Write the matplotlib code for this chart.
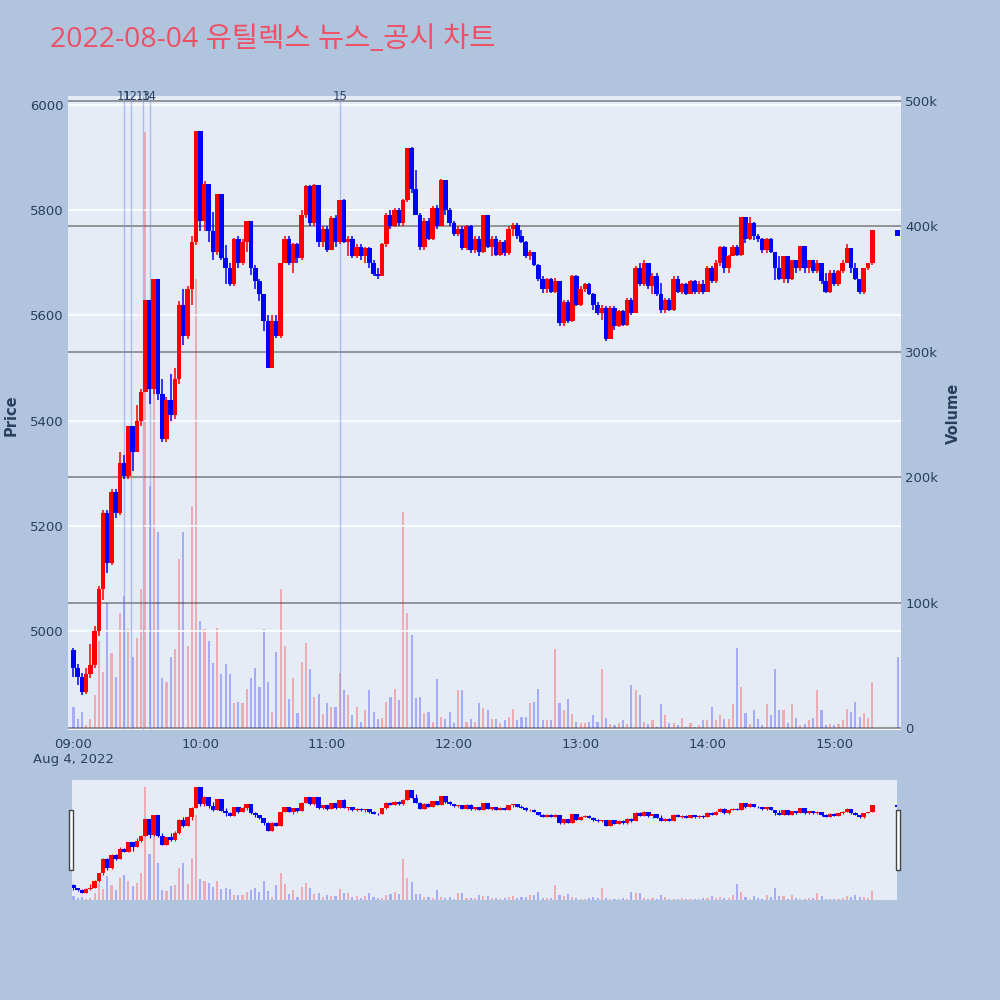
import numpy as np
import pandas as pd
import matplotlib
matplotlib.use("Agg")
import matplotlib.pyplot as plt
from matplotlib.patches import Rectangle
from matplotlib.ticker import FuncFormatter

plt.rcParams['font.family'] = ['DejaVu Sans']

title = "2022-08-04 유틸렉스 뉴스_공시 차트"
start = pd.Timestamp("2022-08-04 09:00")
first_open = 4965

# 2분 단위 종가 (09:00 ~ 15:18)
closes = [
    4930, 4912, 4885, 4918, 4935, 5000, 5080, 5225, 5130, 5265,
    5225, 5320, 5295, 5390, 5340, 5400, 5455, 5630, 5460, 5670,
    5450, 5365, 5440, 5410, 5480, 5620, 5560, 5650, 5740, 5950,
    5780, 5850, 5760, 5720, 5830, 5710, 5690, 5660, 5745, 5700,
    5740, 5780, 5690, 5665, 5640, 5590, 5500, 5590, 5560, 5700,
    5745, 5700, 5735, 5710, 5790, 5845, 5775, 5848, 5740, 5765,
    5725, 5785, 5740, 5820, 5740, 5745, 5712, 5730, 5712, 5728,
    5700, 5678, 5675, 5735, 5790, 5770, 5800, 5775, 5820, 5918,
    5840, 5790, 5730, 5780, 5745, 5805, 5770, 5858, 5800, 5775,
    5755, 5765, 5728, 5770, 5725, 5745, 5720, 5790, 5730, 5745,
    5715, 5740, 5718, 5765, 5772, 5750, 5740, 5712, 5720, 5695,
    5670, 5650, 5670, 5645, 5665, 5585, 5625, 5590, 5675, 5620,
    5650, 5660, 5640, 5620, 5605, 5615, 5555, 5615, 5580, 5608,
    5582, 5630, 5605, 5690, 5660, 5699, 5655, 5675, 5640, 5610,
    5630, 5610, 5670, 5645, 5660, 5640, 5665, 5645, 5660, 5645,
    5690, 5665, 5700, 5730, 5690, 5712, 5730, 5715, 5787, 5745,
    5775, 5750, 5745, 5725, 5745, 5720, 5690, 5670, 5712, 5670,
    5705, 5690, 5731, 5690, 5705, 5685, 5700, 5665, 5645, 5680,
    5660, 5685, 5700, 5728, 5690, 5670, 5645, 5690, 5700, 5762,
]

highs = [
    4968, 4937, 4920, 4930, 4975, 5010, 5085, 5231, 5231, 5270,
    5270, 5340, 5335, 5390, 5390, 5430, 5460, 5630, 5630, 5670,
    5670, 5480, 5445, 5488, 5500, 5628, 5650, 5656, 5750, 5950,
    5950, 5855, 5850, 5796, 5830, 5830, 5733, 5700, 5747, 5750,
    5745, 5780, 5780, 5695, 5670, 5640, 5600, 5600, 5600, 5700,
    5750, 5750, 5737, 5738, 5800, 5848, 5848, 5850, 5848, 5770,
    5770, 5788, 5790, 5820, 5822, 5750, 5750, 5735, 5735, 5730,
    5730, 5705, 5690, 5737, 5794, 5800, 5805, 5805, 5822, 5918,
    5920, 5877, 5794, 5785, 5785, 5807, 5810, 5860, 5858, 5805,
    5780, 5770, 5770, 5772, 5772, 5750, 5750, 5790, 5790, 5750,
    5750, 5743, 5743, 5769, 5775, 5775, 5762, 5742, 5725, 5721,
    5697, 5675, 5671, 5672, 5671, 5665, 5630, 5630, 5677, 5677,
    5655, 5662, 5662, 5642, 5625, 5620, 5618, 5618, 5618, 5611,
    5611, 5633, 5633, 5693, 5699, 5705, 5700, 5680, 5680, 5662,
    5633, 5633, 5674, 5674, 5662, 5662, 5668, 5668, 5665, 5668,
    5693, 5693, 5705, 5731, 5731, 5715, 5734, 5734, 5787, 5787,
    5787, 5778, 5755, 5747, 5747, 5747, 5720, 5712, 5712, 5712,
    5706, 5706, 5731, 5731, 5706, 5706, 5706, 5700, 5680, 5687,
    5687, 5687, 5705, 5735, 5728, 5699, 5670, 5690, 5700, 5762,
]

lows = [
    4912, 4898, 4878, 4880, 4910, 4930, 4990, 5060, 5110, 5125,
    5215, 5220, 5290, 5290, 5305, 5340, 5390, 5455, 5431, 5450,
    5440, 5360, 5360, 5400, 5404, 5470, 5544, 5555, 5620, 5733,
    5760, 5760, 5740, 5705, 5715, 5705, 5660, 5656, 5655, 5690,
    5695, 5720, 5677, 5650, 5628, 5570, 5500, 5500, 5557, 5557,
    5700, 5695, 5680, 5700, 5705, 5785, 5770, 5770, 5730, 5730,
    5720, 5725, 5730, 5735, 5737, 5712, 5710, 5710, 5705, 5700,
    5690, 5674, 5670, 5675, 5730, 5765, 5768, 5770, 5770, 5815,
    5832, 5790, 5725, 5725, 5743, 5743, 5765, 5770, 5790, 5770,
    5750, 5750, 5725, 5725, 5718, 5718, 5712, 5718, 5728, 5712,
    5712, 5712, 5712, 5715, 5750, 5745, 5737, 5709, 5705, 5693,
    5665, 5643, 5643, 5643, 5643, 5580, 5580, 5586, 5588, 5617,
    5618, 5645, 5638, 5610, 5600, 5592, 5552, 5555, 5573, 5578,
    5580, 5580, 5600, 5605, 5655, 5655, 5650, 5640, 5636, 5605,
    5605, 5608, 5608, 5643, 5640, 5638, 5640, 5640, 5640, 5640,
    5645, 5662, 5662, 5693, 5680, 5680, 5712, 5712, 5712, 5737,
    5743, 5743, 5740, 5718, 5718, 5718, 5668, 5668, 5662, 5662,
    5668, 5680, 5685, 5680, 5680, 5680, 5680, 5660, 5643, 5643,
    5655, 5655, 5680, 5699, 5680, 5668, 5640, 5640, 5687, 5695,
]

# 2분 단위 거래량 (천 주)
volumes_k = [
    17, 7, 13, 2, 7, 26, 69, 45, 100, 60,
    41, 92, 105, 79, 57, 72, 111, 475, 193, 290,
    156, 40, 37, 57, 63, 135, 156, 65, 177, 358,
    85, 79, 69, 52, 80, 43, 51, 43, 20, 21,
    20, 31, 40, 48, 33, 79, 37, 13, 61, 111,
    65, 23, 40, 12, 53, 68, 47, 25, 27, 11,
    20, 17, 17, 44, 30, 26, 10, 17, 5, 14,
    30, 13, 7, 8, 21, 25, 31, 22, 172, 92,
    74, 24, 25, 12, 13, 5, 39, 9, 7, 13,
    4, 30, 30, 5, 7, 5, 20, 16, 14, 7,
    7, 4, 6, 9, 15, 6, 9, 9, 20, 21,
    31, 6, 6, 6, 63, 20, 14, 23, 11, 5,
    4, 4, 5, 10, 5, 47, 8, 3, 2, 4,
    6, 3, 34, 30, 26, 5, 3, 6, 1, 19,
    10, 4, 4, 2, 8, 1, 4, 1, 2, 6,
    6, 17, 6, 10, 7, 7, 19, 64, 33, 12,
    3, 14, 7, 2, 19, 10, 47, 14, 14, 4,
    19, 8, 2, 3, 6, 8, 30, 14, 2, 3,
    2, 3, 6, 15, 13, 21, 9, 12, 8, 37,
]

# 장 마감 동시호가
auction_time = pd.Timestamp("2022-08-04 15:30")
auction_open, auction_close, auction_volume_k = 5762, 5750, 57

# 뉴스/공시 시각
news_times = ["09:24", "09:27", "09:33", "09:36", "11:06"]
news_labels = ["11", "12", "13", "14", "15"]

times = list(pd.date_range(start, periods=len(closes), freq="2min")) + [auction_time]
c = np.array(closes + [auction_close], dtype=float)
o = np.array([first_open] + closes[:-1] + [auction_open], dtype=float)
hi = np.array(highs + [auction_open], dtype=float)
lo = np.array(lows + [auction_close], dtype=float)
vol = np.array(volumes_k + [auction_volume_k], dtype=float) * 1000
up = c >= o
colors = np.where(up, "#ff0000", "#0000ff")
body_h = np.maximum(np.abs(c - o), 3)
body_b = np.minimum(o, c) - (body_h - np.abs(c - o)) / 2

MIN = 1 / 1440
BG = "#b0c4de"
PLOT_BG = "#e5ecf6"
TXT = "#2a3f5f"


def draw(ax_v, ax_p, wick_lw):
    ax_v.bar(times, vol, width=1.0 * MIN, color=colors, alpha=0.27, linewidth=0)
    ax_p.vlines(times, lo, hi, colors=colors, linewidth=wick_lw, zorder=3)
    ax_p.bar(times, body_h, bottom=body_b, width=2.2 * MIN, color=colors,
             linewidth=0, zorder=3, antialiased=False)
    ax_v.set_ylim(-1600, 504000)
    ax_p.set_ylim(4812, 6017)
    for a in (ax_v, ax_p):
        for s in a.spines.values():
            s.set_visible(False)


fig = plt.figure(figsize=(10, 10), dpi=100, facecolor=BG)

# 메인 차트
ax_v = fig.add_axes([0.068, 0.27, 0.833, 0.634])
ax_v.set_facecolor(PLOT_BG)
ax_p = ax_v.twinx()
draw(ax_v, ax_p, 1.1)

ax_v.set_xlim(start - pd.Timedelta(minutes=2.6), start + pd.Timedelta(minutes=391.6))

ax_v.yaxis.set_ticks_position("right")
ax_p.yaxis.set_ticks_position("left")
ax_v.set_yticks(np.arange(0, 500001, 100000))
ax_v.yaxis.set_major_formatter(FuncFormatter(lambda v, p: "0" if v == 0 else f"{int(v / 1000)}k"))
ax_p.set_yticks(np.arange(5000, 6001, 200))
ax_v.set_axisbelow(True)
ax_v.grid(axis="y", color="#8c8c8c", linewidth=1.3)
ax_v.axhline(0, color="white", linewidth=2, zorder=0.5)
ax_p.grid(axis="y", color="white", linewidth=1.2, zorder=0)
ax_p.set_axisbelow(True)

hours = [start + pd.Timedelta(hours=h) for h in range(7)]
ax_v.set_xticks(hours)
ax_v.set_xticklabels(["09:00\nAug 4, 2022"] + [h.strftime("%H:%M") for h in hours[1:]],
                     linespacing=1.2)
for a in (ax_v, ax_p):
    a.tick_params(length=0, labelsize=9.5, labelcolor=TXT, pad=3)
ax_v.tick_params(axis="x", pad=6)

# 뉴스 표시선
for t, lab in zip(news_times, news_labels):
    tt = pd.Timestamp(f"2022-08-04 {t}")
    ax_p.axvline(tt, color="#7b93ee", alpha=0.55, linewidth=1, zorder=2)
    ax_p.text(tt, 1.0, lab, transform=ax_p.get_xaxis_transform(), ha="center",
              va="center", fontsize=8.5, color=TXT)

fig.text(0.011, 0.585, "Price", rotation=90, fontsize=10.5, fontweight="bold",
         color=TXT, ha="center", va="center")
fig.text(0.953, 0.587, "Volume", rotation=90, fontsize=10.5, fontweight="bold",
         color=TXT, ha="center", va="center")
fig.text(0.05, 0.96, title, fontsize=20.5, color="#ee5066",
         family=["Open Sans", "Noto Sans CJK KR"], ha="left", va="center")

# 레인지 슬라이더
sv = fig.add_axes([0.072, 0.10, 0.825, 0.12])
sv.set_facecolor(PLOT_BG)
sp = sv.twinx()
draw(sv, sp, 0.8)
sv.set_xlim(start - pd.Timedelta(minutes=0.7), start + pd.Timedelta(minutes=389.7))
for a in (sv, sp):
    a.set_xticks([])
    a.set_yticks([])

for x0 in (0.0685, 0.8955):
    fig.patches.append(Rectangle((x0, 0.13), 0.0045, 0.06, transform=fig.transFigure,
                                 facecolor="white", edgecolor="#444444", linewidth=1))

fig.savefig("out.png", dpi=100, facecolor=BG)
